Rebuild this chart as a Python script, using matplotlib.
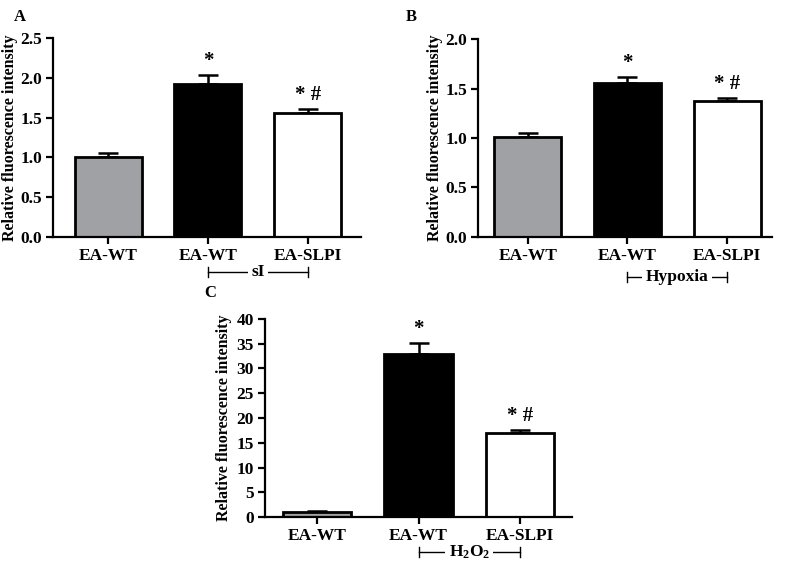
import matplotlib
matplotlib.use("Agg")
import matplotlib.pyplot as plt

plt.rcParams['font.family'] = ['Liberation Serif', 'DejaVu Serif']
plt.rcParams['font.weight'] = 'bold'
plt.rcParams['mathtext.fontset'] = 'custom'
plt.rcParams['mathtext.rm'] = 'Liberation Serif:bold'
plt.rcParams['mathtext.bf'] = 'Liberation Serif:bold'
plt.rcParams['mathtext.it'] = 'Liberation Serif:bold:italic'

categories = ["EA-WT", "EA-WT", "EA-SLPI"]
colors = ["#a0a1a4", "#000000", "#ffffff"]

vals_a = [1.0, 1.92, 1.56]
err_a = [0.06, 0.11, 0.05]
vals_b = [1.01, 1.56, 1.37]
err_b = [0.04, 0.06, 0.03]
vals_c = [1.0, 33.0, 17.0]
err_c = [0.2, 2.2, 0.6]

yticks_a = [0.0, 0.5, 1.0, 1.5, 2.0, 2.5]
yticks_b = [0.0, 0.5, 1.0, 1.5, 2.0]
yticks_c = [0, 5, 10, 15, 20, 25, 30, 35, 40]
annots = ["", "*", "* #"]

fig = plt.figure(figsize=(7.89, 5.73), dpi=100)

def panel(rect, vals, errs, yticks, fmt, xlim, bracket_label, bracket_y, letter, letter_xy, ylab_x):
    ax = fig.add_axes(rect)
    x = list(range(len(vals)))
    ax.bar(x, vals, width=0.67, color=colors, edgecolor='black', linewidth=2, zorder=2)
    ax.errorbar(x, vals, yerr=[[0]*len(vals), errs], fmt='none', ecolor='black',
                elinewidth=1.8, capsize=7, capthick=1.8, zorder=1)
    ymax = yticks[-1]
    ax.set_ylim(0, ymax)
    ax.set_xlim(*xlim)
    ax.set_yticks(yticks)
    ax.set_yticklabels([fmt.format(t) for t in yticks], fontsize=12.5, fontweight='bold')
    ax.set_xticks(x)
    ax.set_xticklabels(categories, fontsize=12.5, fontweight='bold')
    for s in ['top', 'right']:
        ax.spines[s].set_visible(False)
    for s in ['left', 'bottom']:
        ax.spines[s].set_linewidth(1.6)
    ax.tick_params(axis='both', width=1.6, length=5, direction='out', pad=3)
    ax.set_ylabel("Relative fluorescence intensity", fontsize=11.5, fontweight='bold')
    ax.yaxis.set_label_coords(ylab_x, 0.5)
    for xi, v, e, a in zip(x, vals, errs, annots):
        if a:
            ax.text(xi, v + e + ymax * 0.02, a, ha='center', va='bottom',
                    fontsize=15, fontweight='bold')
    trans = ax.get_xaxis_transform()
    ax.plot([1, 2], [bracket_y, bracket_y], color='black', lw=1.0, transform=trans, clip_on=False)
    ax.plot([1, 1], [bracket_y - 0.025, bracket_y + 0.025], color='black', lw=1.0, transform=trans, clip_on=False)
    ax.plot([2, 2], [bracket_y - 0.025, bracket_y + 0.025], color='black', lw=1.0, transform=trans, clip_on=False)
    ax.text(1.5, bracket_y, bracket_label, ha='center', va='center', transform=trans,
            fontsize=12.5, fontweight='bold',
            bbox=dict(boxstyle='square,pad=0.2', facecolor='white', edgecolor='none'))
    fig.text(letter_xy[0], letter_xy[1], letter, fontsize=12, fontweight='bold',
             ha='center', va='center')
    return ax

panel([0.0672, 0.5864, 0.3903, 0.3473], vals_a, err_a, yticks_a, "{:.1f}",
      (-0.55, 2.53), "sI", -0.176, "A", (20/789, 1 - 17/573), -0.114)
panel([0.6058, 0.5864, 0.3727, 0.3455], vals_b, err_b, yticks_b, "{:.1f}",
      (-0.5, 2.45), "Hypoxia", -0.20, "B", (411/789, 1 - 17/573), -0.119)
panel([0.3359, 0.0977, 0.3891, 0.3456], vals_c, err_c, yticks_c, "{:d}",
      (-0.51, 2.51), "H$_\\mathrm{2}$O$_\\mathrm{2}$", -0.177, "C", (210/789, 1 - 293/573), -0.107)

fig.savefig("out.png", dpi=100)
